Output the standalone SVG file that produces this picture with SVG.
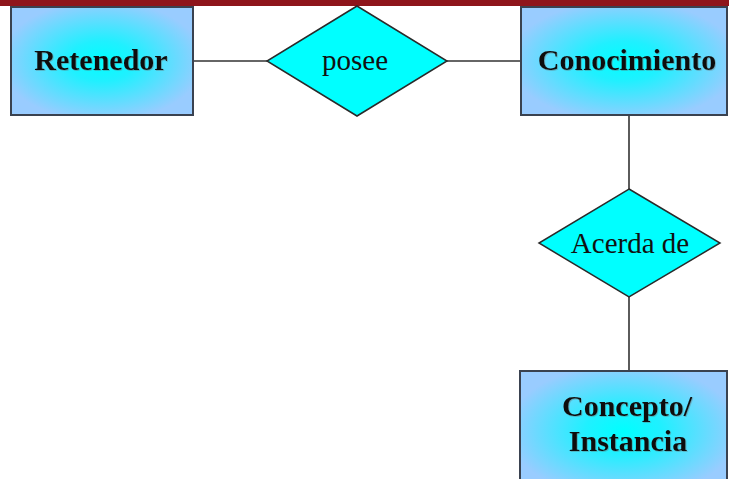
<svg xmlns="http://www.w3.org/2000/svg" width="729" height="479" viewBox="0 0 729 479">
<style>
.ent{stroke:#3a4250;stroke-width:2;fill:url(#rg)}
.rel{stroke:#2a2a2a;stroke-width:1.5;fill:#00FFFF}
.con{stroke:#333;stroke-width:1.6;fill:none}
.bt{font-family:"Liberation Serif",serif;font-weight:bold;font-size:30px;fill:#111;text-anchor:middle;filter:url(#sh)}
.rt{font-family:"Liberation Serif",serif;font-size:29px;fill:#111;text-anchor:middle}
</style>
<defs>
<radialGradient id="rg" cx="0.5" cy="0.5" r="0.62">
<stop offset="0" stop-color="#00FFFF"/>
<stop offset="0.3" stop-color="#20F0FF"/>
<stop offset="0.9" stop-color="#99CCFF"/>
<stop offset="1" stop-color="#99CCFF"/>
</radialGradient>
<filter id="sh" x="-10%" y="-20%" width="120%" height="140%">
<feDropShadow dx="0.8" dy="0.8" stdDeviation="0.5" flood-color="#666" flood-opacity="0.45"/>
</filter>
</defs>
<rect x="0" y="0" width="729" height="6" fill="#8E151B"/>
<g id="connectors">
<line class="con" x1="193" y1="61" x2="267" y2="61"/>
<line class="con" x1="447" y1="61" x2="521" y2="61"/>
<line class="con" x1="629" y1="115" x2="629" y2="189"/>
<line class="con" x1="629" y1="297" x2="629" y2="371"/>
</g>
<g id="retenedor">
<rect class="ent" x="11" y="7" width="182" height="108"/>
<text class="bt" x="101" y="70">Retenedor</text>
</g>
<g id="posee">
<polygon class="rel" points="357,6 447,61 357,116 267,61"/>
<text class="rt" x="355" y="70">posee</text>
</g>
<g id="conocimiento">
<rect class="ent" x="521" y="7" width="206" height="108"/>
<text class="bt" x="627" y="70">Conocimiento</text>
</g>
<g id="acerda">
<polygon class="rel" points="629,189 720,243 629,297 539,243"/>
<text class="rt" x="630" y="253">Acerda de</text>
</g>
<g id="concepto">
<rect class="ent" x="520" y="371" width="207" height="120"/>
<text class="bt" x="627" y="416">Concepto/</text>
<text class="bt" x="628" y="451">Instancia</text>
</g>
</svg>
